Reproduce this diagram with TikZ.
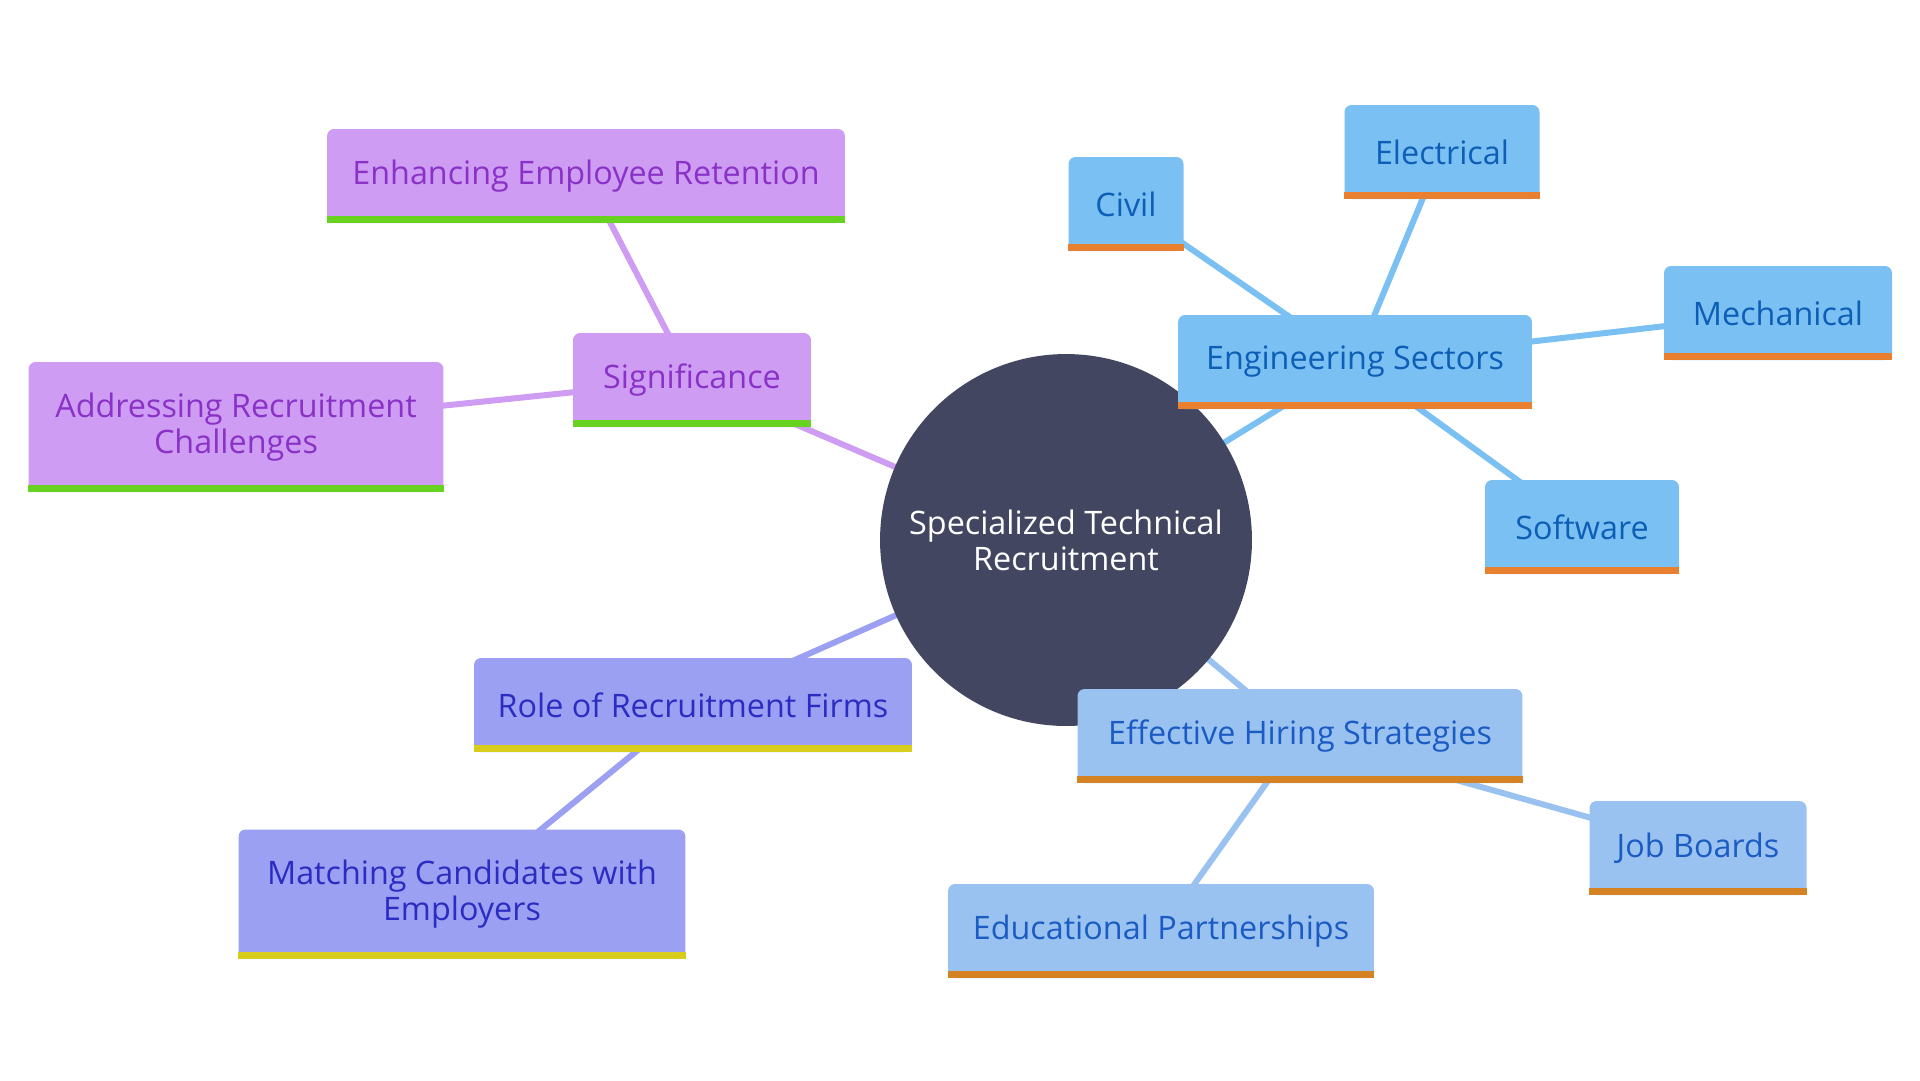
\documentclass[tikz,border=0pt]{standalone}
\usepackage{fontspec}
\setmainfont{Open Sans}
\usepackage{xcolor}
\usepackage{tikz}
\usetikzlibrary{positioning, backgrounds}
\definecolor{hubfill}{HTML}{424660}
\definecolor{sigfill}{HTML}{CE9CF2}
\definecolor{sigtext}{HTML}{8A32C8}
\definecolor{sigbar}{HTML}{67D21F}
\definecolor{engfill}{HTML}{7BC0F2}
\definecolor{engtext}{HTML}{0D5EB6}
\definecolor{engbar}{HTML}{E8802F}
\definecolor{hirefill}{HTML}{9AC2F0}
\definecolor{hiretext}{HTML}{1B5CC4}
\definecolor{hirebar}{HTML}{D48224}
\definecolor{rolefill}{HTML}{9BA0F2}
\definecolor{roletext}{HTML}{2B2DC2}
\definecolor{rolebar}{HTML}{D8CC1D}
\tikzstyle{hub} = [circle, fill=hubfill, text=white, minimum size=7.44cm, align=center, font=\fontsize{18.4}{20.5}\selectfont]
\tikzstyle{box} = [rectangle, rounded corners=4pt, minimum height=1.88cm, align=center, font=\fontsize{18.4}{20.5}\selectfont]
\tikzstyle{sig} = [box, fill=sigfill, text=sigtext]
\tikzstyle{eng} = [box, fill=engfill, text=engtext]
\tikzstyle{hire} = [box, fill=hirefill, text=hiretext]
\tikzstyle{role} = [box, fill=rolefill, text=roletext]
\tikzstyle{link} = [draw, line width=0.12cm]

\begin{document}
\begin{tikzpicture}[x=0.02cm, y=-0.02cm]
    \useasboundingbox (0,0) rectangle (1920,1080);
    % Draw blocks
    \node (hub) [hub] at (1066,540) {Specialized Technical\\Recruitment};

    \node (significance) [sig, minimum width=4.76cm] at (692,380) {Significance};
    \node (retention) [sig, minimum width=10.36cm] at (586,176) {Enhancing Employee Retention};
    \node (challenges) [sig, minimum width=8.3cm, minimum height=2.6cm] at (236,427) {Addressing Recruitment\\Challenges};

    \node (sectors) [eng, minimum width=7.08cm] at (1355,362) {Engineering Sectors};
    \node (civil) [eng, minimum width=2.3cm] at (1126,204) {Civil};
    \node (electrical) [eng, minimum width=3.9cm] at (1442,152) {Electrical};
    \node (mechanical) [eng, minimum width=4.56cm] at (1778,313) {Mechanical};
    \node (software) [eng, minimum width=3.88cm] at (1582,527) {Software};

    \node (strategies) [hire, minimum width=8.9cm] at (1300,736) {Effective Hiring Strategies};
    \node (job_boards) [hire, minimum width=4.34cm] at (1698,848) {Job Boards};
    \node (partnerships) [hire, minimum width=8.52cm] at (1161,931) {Educational Partnerships};

    \node (firms) [role, minimum width=8.76cm] at (693,705) {Role of Recruitment Firms};
    \node (matching) [role, minimum width=8.94cm, minimum height=2.58cm] at (462,894) {Matching Candidates with\\Employers};

    % Bottom bars
    \fill [sigbar] (significance.south west) rectangle ([yshift=0.14cm]significance.south east);
    \fill [sigbar] (retention.south west) rectangle ([yshift=0.14cm]retention.south east);
    \fill [sigbar] (challenges.south west) rectangle ([yshift=0.14cm]challenges.south east);
    \fill [engbar] (sectors.south west) rectangle ([yshift=0.14cm]sectors.south east);
    \fill [engbar] (civil.south west) rectangle ([yshift=0.14cm]civil.south east);
    \fill [engbar] (electrical.south west) rectangle ([yshift=0.14cm]electrical.south east);
    \fill [engbar] (mechanical.south west) rectangle ([yshift=0.14cm]mechanical.south east);
    \fill [engbar] (software.south west) rectangle ([yshift=0.14cm]software.south east);
    \fill [hirebar] (strategies.south west) rectangle ([yshift=0.14cm]strategies.south east);
    \fill [hirebar] (job_boards.south west) rectangle ([yshift=0.14cm]job_boards.south east);
    \fill [hirebar] (partnerships.south west) rectangle ([yshift=0.14cm]partnerships.south east);
    \fill [rolebar] (firms.south west) rectangle ([yshift=0.14cm]firms.south east);
    \fill [rolebar] (matching.south west) rectangle ([yshift=0.14cm]matching.south east);

    % Links
    \begin{scope}[on background layer]
        \draw [link, sigfill] (hub.center) -- (significance.center);
        \draw [link, sigfill] (significance.center) -- (retention.center);
        \draw [link, sigfill] (significance.center) -- (challenges.center);

        \draw [link, engfill] (hub.center) -- (sectors.center);
        \draw [link, engfill] (sectors.center) -- (civil.center);
        \draw [link, engfill] (sectors.center) -- (electrical.center);
        \draw [link, engfill] (sectors.center) -- (mechanical.center);
        \draw [link, engfill] (sectors.center) -- (software.center);

        \draw [link, hirefill] (hub.center) -- (strategies.center);
        \draw [link, hirefill] (strategies.center) -- (job_boards.center);
        \draw [link, hirefill] (strategies.center) -- (partnerships.center);

        \draw [link, rolefill] (hub.center) -- (firms.center);
        \draw [link, rolefill] (firms.center) -- (matching.center);
    \end{scope}
\end{tikzpicture}
\end{document}
